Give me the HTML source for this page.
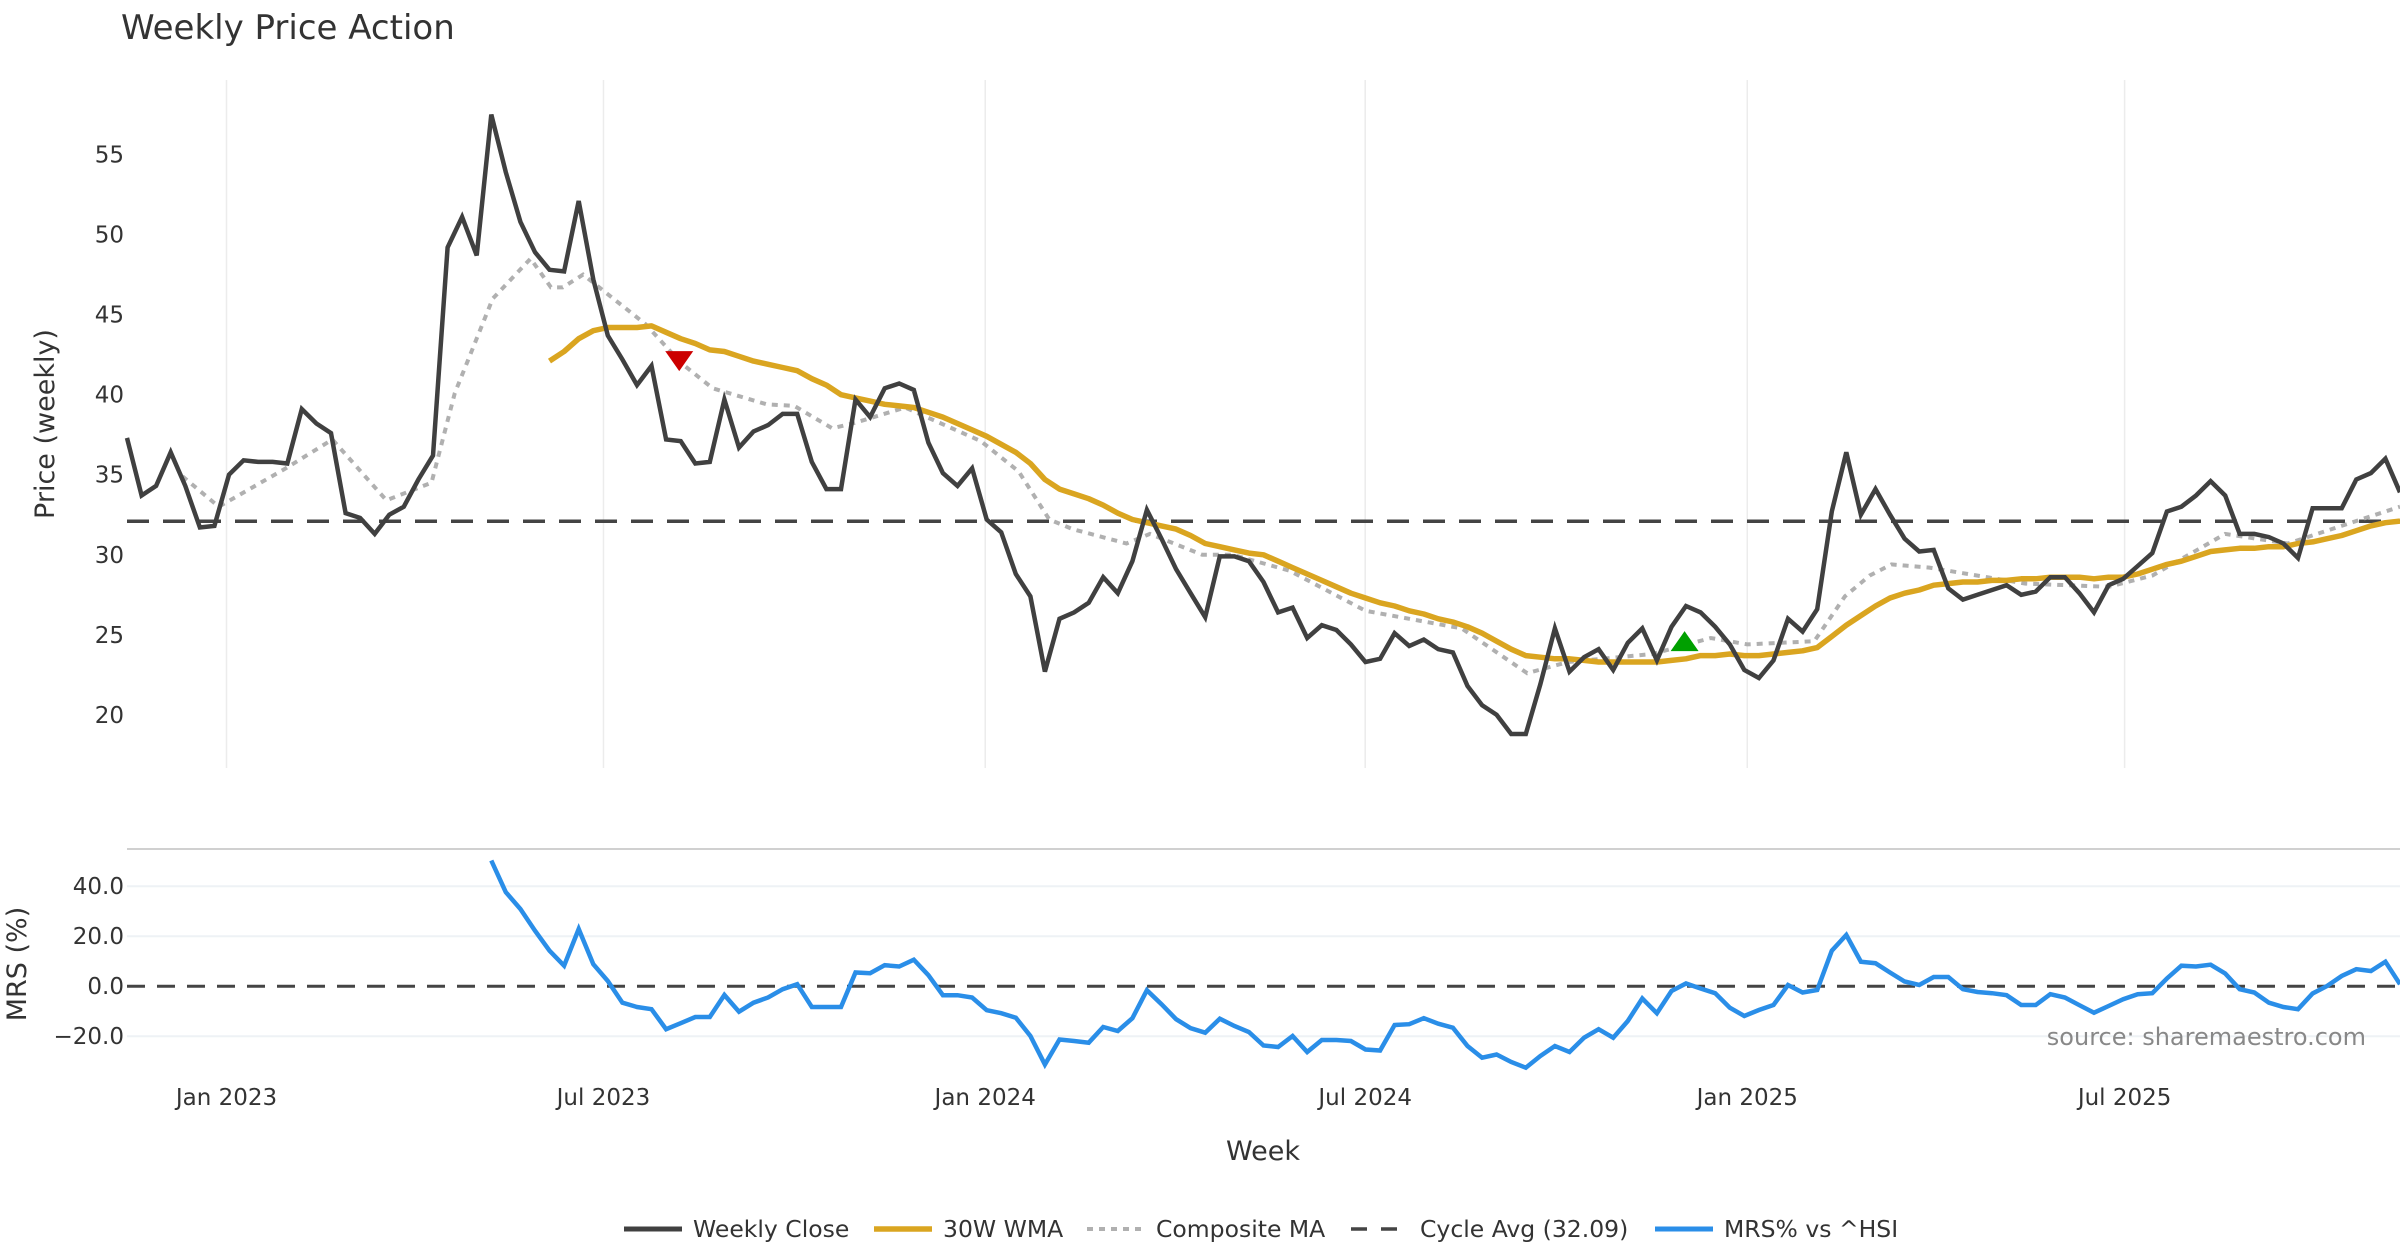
<!DOCTYPE html>
<html><head><meta charset="utf-8"><style>
html,body{margin:0;padding:0;background:#fff;}
svg{display:block;font-family:"DejaVu Sans","Liberation Sans",sans-serif;}
</style></head><body>
<svg id="chart" width="2400" height="1260" viewBox="0 0 2400 1260">
<text x="121" y="39" font-size="34" fill="#333">Weekly Price Action</text>
<g id="grid"></g>
<g id="axes"></g>
<g id="series"></g>
<g id="legend"></g>
</svg>
<script>
const closeValues=[37.3,33.7,34.3,36.4,34.3,31.7,31.8,35.0,35.9,35.8,
35.8,35.7,39.1,38.2,37.6,32.6,32.3,31.3,32.5,33.0,
34.7,36.2,49.2,51.1,48.7,57.5,53.9,50.8,48.9,47.8,
47.7,52.1,47.2,43.7,42.2,40.6,41.8,37.2,37.1,35.7,
35.8,39.7,36.7,37.7,38.1,38.8,38.8,35.8,34.1,34.1,
39.7,38.6,40.4,40.7,40.3,37.0,35.1,34.3,35.4,32.2,
31.4,28.8,27.4,22.7,26.0,26.4,27.0,28.6,27.6,29.6,
32.8,31.0,29.1,27.6,26.1,29.9,29.9,29.6,28.3,26.4,
26.7,24.8,25.6,25.3,24.4,23.3,23.5,25.1,24.3,24.7,
24.1,23.9,21.8,20.6,20.0,18.8,18.8,21.9,25.4,22.7,
23.6,24.1,22.8,24.5,25.4,23.4,25.5,26.8,26.4,25.5,
24.4,22.8,22.3,23.4,26.0,25.2,26.6,32.7,36.4,32.5,
34.1,32.5,31.0,30.2,30.3,27.9,27.2,27.5,27.8,28.1,
27.5,27.7,28.6,28.6,27.6,26.4,28.1,28.5,29.3,30.1,
32.7,33.0,33.7,34.6,33.7,31.3,31.3,31.1,30.7,29.8,
32.9,32.9,32.9,34.7,35.1,36.0,33.9];
const wmaStart=29;
const wmaValues=[42.1,42.7,43.5,44.0,44.2,44.2,44.2,44.3,43.9,43.5,43.2,42.8,42.7,42.4,42.1,41.9,41.7,41.5,41.0,40.6,
40.0,39.8,39.6,39.4,39.3,39.2,38.9,38.6,38.2,37.8,37.4,36.9,36.4,35.7,34.7,34.1,33.8,33.5,33.1,32.6,
32.2,32.0,31.8,31.6,31.2,30.7,30.5,30.3,30.1,30.0,29.6,29.2,28.8,28.4,28.0,27.6,27.3,27.0,26.8,26.5,
26.3,26.0,25.8,25.5,25.1,24.6,24.1,23.7,23.6,23.5,23.5,23.4,23.3,23.3,23.3,23.3,23.3,23.4,23.5,23.7,
23.7,23.8,23.7,23.7,23.8,23.9,24.0,24.2,24.9,25.6,26.2,26.8,27.3,27.6,27.8,28.1,28.2,28.3,28.3,28.4,
28.4,28.5,28.5,28.6,28.6,28.6,28.5,28.6,28.6,28.8,29.1,29.4,29.6,29.9,30.2,30.3,30.4,30.4,30.5,30.5,
30.7,30.8,31.0,31.2,31.5,31.8,32.0,32.1];
const compositeWeeks=[3.8,6.3,10.9,14.1,17.8,20.9,22.5,25.1,27.7,29.1,29.9,31.3,35.6,38.0,40.2,43.9,45.8,48.4,49.8,53.4,58.6,61.2,63.3,64.9,68.6,70.2,73.8,75.9,79.8,85.0,91.6,96.1,98.9,104.7,108.7,111.2,115.8,117.9,119.6,121.1,123.7,130.3,136.0,139.0,144.0,148.3,156];
const compositeValues=[34.9,33.0,35.4,37.2,33.4,34.5,40.1,46.0,48.5,46.7,46.7,47.5,44.4,42.0,40.4,39.4,39.3,37.9,38.2,39.2,37.1,35.2,32.2,31.6,30.7,31.3,30.0,30.0,29.0,26.5,25.4,22.6,23.3,23.8,24.8,24.4,24.6,27.4,28.7,29.4,29.2,28.2,28.0,28.7,31.3,30.7,33.0];
const cycleAvg=32.09;
const mrsStart=25;
const mrsValues=[50.3,37.6,30.9,22.2,14.2,8.2,22.9,8.8,2.1,-6.6,-8.3,-9.2,-17.2,-14.8,-12.3,-12.3,-3.5,-10.2,-6.6,-4.5,
-1.2,0.8,-8.3,-8.3,-8.3,5.5,5.2,8.4,7.9,10.6,4.4,-3.6,-3.6,-4.5,-9.6,-10.8,-12.6,-19.9,-31.3,-21.3,
-21.9,-22.6,-16.3,-17.9,-12.8,-1.6,-7.2,-13.2,-16.8,-18.6,-13.0,-15.9,-18.3,-23.7,-24.3,-19.9,-26.3,-21.5,-21.5,-21.9,
-25.3,-25.7,-15.5,-15.2,-12.8,
-15.0,-16.6,-23.9,-28.6,-27.3,-30.3,-32.6,-27.9,-23.9,-26.3,-20.6,-17.2,-20.6,-13.9,-4.9,-10.8,-1.9,1.1,-0.9,-2.8,
-8.6,-11.9,-9.5,-7.5,0.5,-2.5,-1.5,14.2,20.5,9.8,9.2,5.5,1.9,0.5,3.7,3.7,-1.2,-2.3,-2.8,-3.6,
-7.5,-7.5,-3.2,-4.5,-7.6,-10.6,-7.9,-5.2,-3.2,-2.8,3.1,8.2,7.9,8.6,5.1,-1.2,-2.5,-6.6,-8.3,-9.2,
-2.9,0.1,4.1,6.8,6.1,9.8,0.8];
const sellSignalWeek=37.9, sellSignalValue=42.1;
const buySignalWeek=106.9, buySignalValue=24.6;
const dateTickWeeks=[6.83,32.7,58.9,84.98,111.2,137.1];
const dateTickLabels=["Jan 2023","Jul 2023","Jan 2024","Jul 2024","Jan 2025","Jul 2025"];
const priceTicks=[20,25,30,35,40,45,50,55];
const mrsTicks=[40,20,0,-20];
const mrsTickLabels=["40.0","20.0","0.0","\u221220.0"];

const NS="http://www.w3.org/2000/svg";
const X0=127, XW=2273/156;
const x=i=>X0+i*XW;
const yP=v=>154.6+(55-v)*16.006;
const yM=v=>986.2-v*2.5;
function mk(tag,attrs,parent){const e=document.createElementNS(NS,tag);for(const k in attrs)e.setAttribute(k,attrs[k]);parent.appendChild(e);return e;}
const grid=document.getElementById('grid'),axes=document.getElementById('axes'),ser=document.getElementById('series'),leg=document.getElementById('legend');

dateTickWeeks.forEach((w,k)=>{
 const l=mk('line',{x1:x(w),x2:x(w),y1:80,y2:768,stroke:'#ececec','stroke-width':1.5},grid);
 
 
 const t=mk('text',{x:x(w),y:1105,'font-size':23,fill:'#333','text-anchor':'middle'},axes);
 t.textContent=dateTickLabels[k];
 
 
});
priceTicks.forEach(v=>{
 const t=mk('text',{x:124,y:yP(v)+8,'font-size':23,fill:'#333','text-anchor':'end'},axes);
 t.textContent=v;
 
 
});
mrsTicks.forEach((v,k)=>{
 if(v!==0){const g=mk('line',{x1:127,x2:2400,y1:yM(v),y2:yM(v),stroke:'#eef2f5','stroke-width':2},grid);
 
 }
 const t=mk('text',{x:124,y:yM(v)+8,'font-size':23,fill:'#333','text-anchor':'end'},axes);
 t.textContent=mrsTickLabels[k];
 
 
});
const sep=mk('line',{x1:127,x2:2400,y1:849,y2:849,stroke:'#d0d0d0','stroke-width':2},grid);


let t=mk('text',{transform:'translate(54,424) rotate(-90)','font-size':27,fill:'#333','text-anchor':'middle'},axes);
t.textContent='Price (weekly)';


t=mk('text',{transform:'translate(26,964) rotate(-90)','font-size':27,fill:'#333','text-anchor':'middle'},axes);
t.textContent='MRS (%)';


t=mk('text',{x:1263,y:1160,'font-size':27,fill:'#333','text-anchor':'middle'},axes);
t.textContent='Week';


t=mk('text',{x:2366,y:1045,'font-size':24,fill:'#888','text-anchor':'end'},axes);
t.textContent='source: sharemaestro.com';



function path(pts){return pts.map((p,i)=>(i?'L':'M')+p[0].toFixed(1)+' '+p[1].toFixed(1)).join(' ');}
let e=mk('line',{x1:127,x2:2400,y1:yP(cycleAvg),y2:yP(cycleAvg),stroke:'#444','stroke-width':3.5,'stroke-dasharray':'22 14'},ser);


e=mk('path',{d:path(compositeWeeks.map((w,i)=>[x(w),yP(compositeValues[i])])),fill:'none',stroke:'#b0b0b0','stroke-width':4,'stroke-dasharray':'6 6'},ser);


e=mk('path',{d:path(wmaValues.map((v,i)=>[x(wmaStart+i),yP(v)])),fill:'none',stroke:'#DAA520','stroke-width':5.5,'stroke-linejoin':'round'},ser);


e=mk('path',{d:path(closeValues.map((v,i)=>[x(i),yP(v)])),fill:'none',stroke:'#404040','stroke-width':4.5,'stroke-linejoin':'miter'},ser);


let sx=x(sellSignalWeek),sy=yP(sellSignalValue);
e=mk('polygon',{points:`${sx-14},${sy-10} ${sx+14},${sy-10} ${sx},${sy+10}`,fill:'#cc0000'},ser);


sx=x(buySignalWeek);sy=yP(buySignalValue);
e=mk('polygon',{points:`${sx-14},${sy+10} ${sx+14},${sy+10} ${sx},${sy-10}`,fill:'#00a000'},ser);


e=mk('line',{x1:127,x2:2400,y1:yM(0),y2:yM(0),stroke:'#444','stroke-width':3,'stroke-dasharray':'18 12'},ser);


e=mk('path',{d:path(mrsValues.map((v,i)=>[x(mrsStart+i),yM(v)])),fill:'none',stroke:'#2a8ee8','stroke-width':4.5,'stroke-linejoin':'miter'},ser);



const legItems=[
 {x:624,label:'Weekly Close',stroke:'#404040',dash:'',w:5},
 {x:874,label:'30W WMA',stroke:'#DAA520',dash:'',w:5.5},
 {x:1087,label:'Composite MA',stroke:'#b0b0b0',dash:'6 6',w:4},
 {x:1351,label:'Cycle Avg (32.09)',stroke:'#444',dash:'16 14',w:3.5},
 {x:1655,label:'MRS% vs ^HSI',stroke:'#2a8ee8',dash:'',w:5}];
legItems.forEach(it=>{
 const g=mk('g',{},leg);
 
 
 mk('line',{x1:it.x,x2:it.x+58,y1:1229,y2:1229,stroke:it.stroke,'stroke-width':it.w,'stroke-dasharray':it.dash},g);
 const tt=mk('text',{x:it.x+69,y:1237,'font-size':23.5,fill:'#333'},g);
 tt.textContent=it.label;
});
</script>
</body></html>
